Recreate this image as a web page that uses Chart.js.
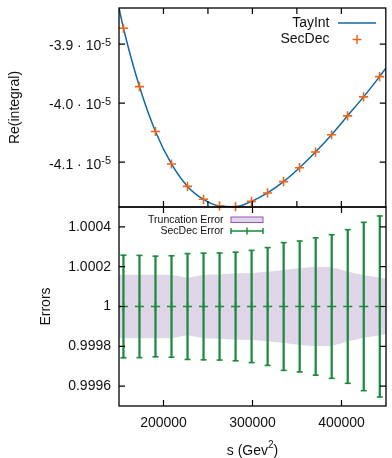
<!DOCTYPE html>
<html>
<head>
<meta charset="utf-8">
<script src="https://cdn.jsdelivr.net/npm/chart.js@4/dist/chart.umd.min.js"></script>
<style>
  html, body { margin: 0; padding: 0; background: #fff; }
  #wrap { position: relative; width: 392px; height: 458px; }
  #wrap canvas { position: absolute; left: 0; top: 0; }
</style>
</head>
<body>
<div id="wrap">
  <canvas id="rePanel" width="392" height="458"></canvas>
  <canvas id="errPanel" width="392" height="458"></canvas>
</div>
<script>
// ---- data ----
const sPoints = [155000, 173000, 191000, 209000, 227000, 245000, 263000, 281000, 299000,
                 317000, 335000, 353000, 371000, 389000, 407000, 425000, 443000];
const secDecRe = [-3.8733e-5, -3.9720e-5, -4.0480e-5, -4.1030e-5, -4.1409e-5, -4.1628e-5,
                  -4.1740e-5, -4.1752e-5, -4.1662e-5, -4.1520e-5, -4.1329e-5, -4.1093e-5,
                  -4.0828e-5, -4.0535e-5, -4.0215e-5, -3.9894e-5, -3.9551e-5];
const secDecErr = [2.58e-4, 2.57e-4, 2.53e-4, 2.55e-4, 2.66e-4, 2.68e-4, 2.69e-4, 2.73e-4, 2.82e-4,
                   2.96e-4, 3.21e-4, 3.29e-4, 3.45e-4, 3.61e-4, 3.86e-4, 4.23e-4, 4.55e-4];

const taySGrid = [150000, 155000, 173000, 191000, 209000, 227000, 245000, 263000, 281000, 299000,
                  317000, 335000, 353000, 371000, 389000, 407000, 425000, 443000, 450000];
const tayIntRe = [-3.8390e-5, -3.8733e-5, -3.9720e-5, -4.0480e-5, -4.1030e-5, -4.1409e-5,
                  -4.1628e-5, -4.1740e-5, -4.1752e-5, -4.1662e-5, -4.1520e-5, -4.1329e-5,
                  -4.1093e-5, -4.0828e-5, -4.0535e-5, -4.0215e-5, -3.9894e-5, -3.9551e-5, -3.9409e-5];
const truncHalf = [1.59e-4, 1.59e-4, 1.59e-4, 1.59e-4, 1.59e-4, 1.45e-4, 1.60e-4, 1.62e-4, 1.67e-4,
                   1.68e-4, 1.75e-4, 1.83e-4, 1.93e-4, 2.00e-4, 1.99e-4, 1.76e-4, 1.57e-4, 1.46e-4, 1.39e-4];

// ---- axes ----
const sRange = [150000, 450000];
const reRange = [-4.1758e-5, -3.839e-5];
const errRange = [0.9995, 1.0005];
const reXTicks = [200000, 250000, 300000, 350000, 400000];
const reYTicks = [-3.9e-5, -4.0e-5, -4.1e-5];
const errXTicks = [200000, 300000, 400000];
const errXTickLabels = ['200000', '300000', '400000'];
const errYTicks = [1.0004, 1.0002, 1, 0.9998, 0.9996];
const errYTickLabels = ['1.0004', '1.0002', '1', '0.9998', '0.9996'];

const FONT = '"Liberation Sans", Arial, Helvetica, sans-serif';
const BLUE = '#0f68a8';
const ORANGE = '#e8671c';
const GREEN = '#1a8c3d';
const BAND = 'rgb(225,214,233)';
const BAND_EDGE = 'rgb(150,84,180)';
const INK = '#111';
const TICK = 6;

function frame(ctx, a) {
  ctx.strokeStyle = '#000';
  ctx.lineWidth = 1.3;
  ctx.strokeRect(a.left, a.top, a.right - a.left, a.bottom - a.top);
}

function ticks(ctx, a, x, y, xs, ys) {
  ctx.strokeStyle = '#000';
  ctx.lineWidth = 1.2;
  ctx.beginPath();
  for (const v of xs) {
    const px = x.getPixelForValue(v);
    ctx.moveTo(px, a.top); ctx.lineTo(px, a.top + TICK);
    ctx.moveTo(px, a.bottom); ctx.lineTo(px, a.bottom - TICK);
  }
  for (const v of ys) {
    const py = y.getPixelForValue(v);
    ctx.moveTo(a.left, py); ctx.lineTo(a.left + TICK, py);
    ctx.moveTo(a.right, py); ctx.lineTo(a.right - TICK, py);
  }
  ctx.stroke();
}

function vTitle(ctx, text, cx, cy) {
  ctx.save();
  ctx.translate(cx, cy);
  ctx.rotate(-Math.PI / 2);
  ctx.font = '14px ' + FONT;
  ctx.fillStyle = INK;
  ctx.textAlign = 'center';
  ctx.textBaseline = 'middle';
  ctx.fillText(text, 0, 0);
  ctx.restore();
}

const rePanelDecor = {
  id: 'rePanelDecor',
  afterDraw(chart) {
    const { ctx, chartArea: a, scales: { x, y } } = chart;
    ctx.save();
    ticks(ctx, a, x, y, reXTicks, reYTicks);
    frame(ctx, a);

    // y tick labels in the form  -3.9 · 10^-5
    ctx.fillStyle = INK;
    ctx.textAlign = 'right';
    ctx.textBaseline = 'middle';
    for (const v of reYTicks) {
      const py = y.getPixelForValue(v);
      ctx.font = '11px ' + FONT;
      const sw = ctx.measureText('-5').width;
      ctx.fillText('-5', a.left - 8, py - 1);
      ctx.font = '14px ' + FONT;
      ctx.fillText((v / 1e-5).toFixed(1) + ' \u00b7 10', a.left - 8 - sw, py + 2.5);
    }

    vTitle(ctx, 'Re(integral)', 15, 107.5);

    // key
    ctx.font = '14px ' + FONT;
    ctx.fillStyle = INK;
    ctx.textAlign = 'right';
    ctx.fillText('TayInt', 329.5, 23);
    ctx.fillText('SecDec', 329.5, 39.5);
    ctx.strokeStyle = BLUE;
    ctx.lineWidth = 1.5;
    ctx.beginPath(); ctx.moveTo(338, 23); ctx.lineTo(376, 23); ctx.stroke();
    ctx.strokeStyle = ORANGE;
    ctx.beginPath();
    ctx.moveTo(352.5, 39.5); ctx.lineTo(361.5, 39.5);
    ctx.moveTo(357, 35); ctx.lineTo(357, 44);
    ctx.stroke();
    ctx.restore();
  }
};

const errPanelDecor = {
  id: 'errPanelDecor',
  afterDraw(chart) {
    const { ctx, chartArea: a, scales: { x, y } } = chart;
    ctx.save();
    ticks(ctx, a, x, y, errXTicks, errYTicks);
    frame(ctx, a);

    ctx.fillStyle = INK;
    ctx.font = '14px ' + FONT;
    ctx.textAlign = 'right';
    ctx.textBaseline = 'middle';
    errYTicks.forEach((v, i) => ctx.fillText(errYTickLabels[i], a.left - 8, y.getPixelForValue(v)));
    ctx.textAlign = 'center';
    errXTicks.forEach((v, i) => ctx.fillText(errXTickLabels[i], x.getPixelForValue(v), 423));

    vTitle(ctx, 'Errors', 46.5, 306.5);

    // x title: s (Gev^2)
    ctx.textAlign = 'left';
    ctx.font = '14px ' + FONT;
    const w1 = ctx.measureText('s (Gev').width;
    const w3 = ctx.measureText(')').width;
    ctx.font = '10px ' + FONT;
    const w2 = ctx.measureText('2').width;
    const cx = (a.left + a.right) / 2;
    let tx = cx - (w1 + w2 + w3) / 2;
    ctx.font = '14px ' + FONT;
    ctx.fillText('s (Gev', tx, 451);
    ctx.font = '10px ' + FONT;
    ctx.fillText('2', tx + w1, 445.5);
    ctx.font = '14px ' + FONT;
    ctx.fillText(')', tx + w1 + w2, 451);

    // key
    ctx.font = '10.5px ' + FONT;
    ctx.textAlign = 'right';
    ctx.fillText('Truncation Error', 223.5, 220);
    ctx.fillText('SecDec Error', 223.5, 231);
    ctx.fillStyle = BAND;
    ctx.fillRect(231, 217, 32, 5.5);
    ctx.strokeStyle = BAND_EDGE;
    ctx.lineWidth = 1;
    ctx.strokeRect(231, 217, 32, 5.5);
    ctx.strokeStyle = GREEN;
    ctx.lineWidth = 1.5;
    ctx.beginPath();
    ctx.moveTo(231, 231); ctx.lineTo(263, 231);
    ctx.moveTo(231, 228); ctx.lineTo(231, 234);
    ctx.moveTo(263, 228); ctx.lineTo(263, 234);
    ctx.moveTo(247, 227.5); ctx.lineTo(247, 234.5);
    ctx.stroke();
    ctx.restore();
  }
};

Chart.defaults.font.family = FONT;

const baseOptions = (pad, yr) => ({
  responsive: false,
  animation: false,
  events: [],
  layout: { padding: pad },
  plugins: { legend: { display: false }, tooltip: { enabled: false } },
  scales: {
    x: { type: 'linear', min: sRange[0], max: sRange[1], offset: false, display: false },
    y: { type: 'linear', min: yr[0], max: yr[1], display: false }
  }
});

// upper panel: Re(integral)
new Chart(document.getElementById('rePanel'), {
  type: 'scatter',
  data: {
    datasets: [
      {
        label: 'SecDec',
        type: 'scatter',
        order: 0,
        clip: 12,
        data: sPoints.map((s, i) => ({ x: s, y: secDecRe[i] })),
        pointStyle: 'cross',
        pointRadius: 4.6,
        pointBorderWidth: 1.6,
        pointBorderColor: ORANGE,
        pointBackgroundColor: ORANGE
      },
      {
        label: 'TayInt',
        type: 'line',
        order: 1,
        data: taySGrid.map((s, i) => ({ x: s, y: tayIntRe[i] })),
        borderColor: BLUE,
        borderWidth: 1.5,
        pointRadius: 0,
        fill: false,
        cubicInterpolationMode: 'monotone'
      }
    ]
  },
  options: baseOptions({ left: 119, right: 1, top: 8, bottom: 458 - 207 }, reRange),
  plugins: [rePanelDecor]
});

// lower panel: errors around 1
new Chart(document.getElementById('errPanel'), {
  type: 'scatter',
  data: {
    datasets: [
      {
        label: 'Truncation Error',
        type: 'line',
        order: 5,
        data: taySGrid.map((s, i) => ({ x: s, y: 1 + truncHalf[i] })),
        borderColor: 'rgba(0,0,0,0)',
        borderWidth: 0,
        pointRadius: 0,
        backgroundColor: BAND,
        fill: '+1'
      },
      {
        label: 'Truncation Error (lower)',
        type: 'line',
        order: 5,
        data: taySGrid.map((s, i) => ({ x: s, y: 1 - truncHalf[i] })),
        borderColor: 'rgba(0,0,0,0)',
        borderWidth: 0,
        pointRadius: 0,
        fill: false
      },
      {
        label: 'SecDec Error',
        type: 'bar',
        order: 3,
        data: sPoints.map((s, i) => ({ x: s, y: [1 - secDecErr[i], 1 + secDecErr[i]] })),
        backgroundColor: GREEN,
        barThickness: 1.6,
        borderWidth: 0,
        clip: 12
      },
      {
        label: 'SecDec Error caps',
        type: 'scatter',
        order: 2,
        clip: 12,
        data: sPoints.flatMap((s, i) => [{ x: s, y: 1 - secDecErr[i] }, { x: s, y: 1 + secDecErr[i] }]),
        pointStyle: 'line',
        pointRadius: 3,
        pointBorderWidth: 1.6,
        pointBorderColor: GREEN
      },
      {
        label: 'SecDec',
        type: 'scatter',
        order: 1,
        data: sPoints.map(s => ({ x: s, y: 1 })),
        pointStyle: 'cross',
        pointRadius: 4.5,
        pointBorderWidth: 1.5,
        pointBorderColor: GREEN
      }
    ]
  },
  options: baseOptions({ left: 119, right: 1, top: 207, bottom: 458 - 406 }, errRange),
  plugins: [errPanelDecor]
});
</script>
</body>
</html>
